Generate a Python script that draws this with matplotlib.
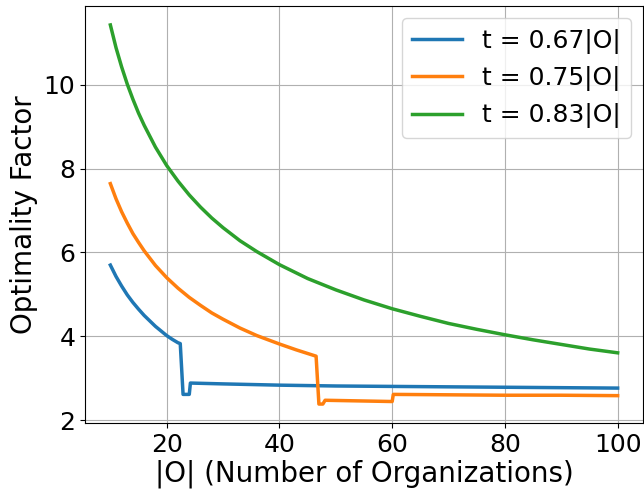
import matplotlib
matplotlib.use("Agg")
import matplotlib.pyplot as plt

# values
blue_x = [10, 11, 12, 13, 14, 15, 16, 17, 18, 19, 20, 21, 22, 22.4, 22.9, 24.0, 24.2,
          30, 40, 50, 60, 70, 80, 90, 100]
blue_y = [5.70, 5.43, 5.20, 4.99, 4.81, 4.65, 4.50, 4.37, 4.24, 4.13, 4.02, 3.93, 3.85, 3.83,
          2.62, 2.62, 2.89, 2.87, 2.84, 2.82, 2.81, 2.80, 2.79, 2.78, 2.77]

orange_x = [10, 11, 12, 13, 14, 15, 16, 18, 20, 22, 24, 26, 28, 30, 33, 36, 40, 43, 46.5,
            47.0, 47.7, 48.1, 60.0, 60.2, 70, 80, 90, 100]
orange_y = [7.64, 7.28, 6.97, 6.70, 6.45, 6.24, 6.04, 5.69, 5.40, 5.15, 4.93, 4.74, 4.56,
            4.41, 4.20, 4.02, 3.82, 3.68, 3.53, 2.39, 2.39, 2.48, 2.45, 2.62, 2.61, 2.60,
            2.60, 2.59]

green_x = [10, 11, 12, 13, 14, 15, 16, 18, 20, 22, 24, 26, 28, 30, 33, 36, 40, 45, 50, 55,
           60, 65, 70, 75, 80, 85, 90, 95, 100]
green_y = [11.42, 10.88, 10.42, 10.01, 9.65, 9.32, 9.03, 8.51, 8.07, 7.70, 7.37, 7.08, 6.82,
           6.59, 6.28, 6.02, 5.71, 5.38, 5.11, 4.87, 4.66, 4.48, 4.31, 4.17, 4.04, 3.92,
           3.81, 3.70, 3.61]

labels = ["t = 0.67|O|", "t = 0.75|O|", "t = 0.83|O|"]

fig = plt.figure(figsize=(6.44, 4.94), dpi=100)
ax = fig.add_axes([85 / 644, 71 / 494, 558 / 644, 417 / 494])

ax.plot(blue_x, blue_y, linewidth=2.5, label=labels[0])
ax.plot(orange_x, orange_y, linewidth=2.5, label=labels[1])
ax.plot(green_x, green_y, linewidth=2.5, label=labels[2])

ax.set_xlabel("|O| (Number of Organizations)", fontsize=20, labelpad=2)
ax.set_ylabel("Optimality Factor", fontsize=20)
ax.tick_params(labelsize=18)
ax.grid(True)
ax.legend(fontsize=18, loc="upper right")

fig.savefig("out.png", dpi=100)
plt.close(fig)
